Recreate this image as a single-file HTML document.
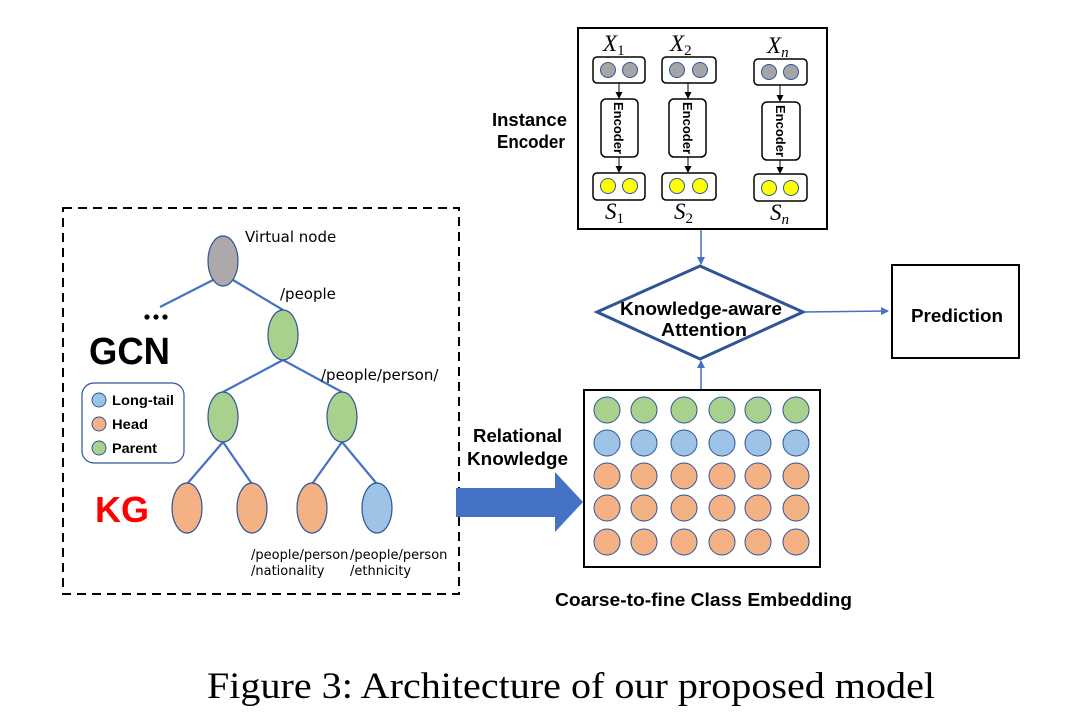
<!DOCTYPE html>
<html><head><meta charset="utf-8"><style>
html,body{margin:0;padding:0;background:#fff;}
svg{display:block;}
.b{font-family:"Liberation Sans","DejaVu Sans",sans-serif;font-weight:bold;fill:#000;}
.n{font-family:"DejaVu Sans","Liberation Sans",sans-serif;fill:#000;}
.i{font-family:"Liberation Serif",serif;font-style:italic;fill:#000;}
</style></head><body>
<svg width="1080" height="726" viewBox="0 0 1080 726" xmlns="http://www.w3.org/2000/svg">
<defs>
<marker id="ab" markerWidth="8" markerHeight="8" refX="7" refY="4" orient="auto" markerUnits="userSpaceOnUse"><path d="M0,0 L8,4 L0,8 z" fill="#4472C4"/></marker>
<marker id="ak" markerWidth="7" markerHeight="7" refX="6" refY="3.5" orient="auto" markerUnits="userSpaceOnUse"><path d="M0,0 L7,3.5 L0,7 z" fill="#000"/></marker>
</defs>
<rect x="63" y="208" width="396" height="386" fill="none" stroke="#000" stroke-width="2" stroke-dasharray="9,6"/>
<g stroke="#4472C4" stroke-width="2.2" fill="none">
<line x1="160" y1="307" x2="213" y2="280"/>
<line x1="233" y1="280" x2="283" y2="310"/>
<line x1="283" y1="360" x2="223" y2="392"/>
<line x1="283" y1="360" x2="342" y2="392"/>
<line x1="223" y1="442" x2="187" y2="484"/>
<line x1="223" y1="442" x2="252" y2="484"/>
<line x1="342" y1="442" x2="312" y2="484"/>
<line x1="342" y1="442" x2="377" y2="484"/>
</g>
<g stroke="#2F5597" stroke-width="1.2">
<ellipse cx="223" cy="261" rx="15" ry="25" fill="#ADA9AA"/>
<ellipse cx="283" cy="335" rx="15" ry="25" fill="#A9D18E"/>
<ellipse cx="223" cy="417" rx="15" ry="25" fill="#A9D18E"/>
<ellipse cx="342" cy="417" rx="15" ry="25" fill="#A9D18E"/>
<ellipse cx="187" cy="508" rx="15" ry="25" fill="#F4B183"/>
<ellipse cx="252" cy="508" rx="15" ry="25" fill="#F4B183"/>
<ellipse cx="312" cy="508" rx="15" ry="25" fill="#F4B183"/>
<ellipse cx="377" cy="508" rx="15" ry="25" fill="#9DC3E6"/>
</g>
<text class="n" x="245" y="242" font-size="15">Virtual node</text>
<text class="n" x="280" y="299" font-size="15">/people</text>
<text class="n" x="321" y="380" font-size="15">/people/person/</text>
<text class="n" x="251" y="559" font-size="13">/people/person</text>
<text class="n" x="251" y="575" font-size="13">/nationality</text>
<text class="n" x="350" y="559" font-size="13">/people/person</text>
<text class="n" x="350" y="575" font-size="13">/ethnicity</text>
<g fill="#000"><circle cx="147" cy="317" r="2.6"/><circle cx="156" cy="317" r="2.6"/><circle cx="165" cy="317" r="2.6"/></g>
<text class="b" x="89" y="364" font-size="38" textLength="81" lengthAdjust="spacingAndGlyphs">GCN</text>
<text class="b" x="95" y="522" font-size="36" style="fill:#FF0000">KG</text>
<rect x="82" y="383" width="102" height="80" rx="12" fill="#fff" stroke="#2F5597" stroke-width="1.2"/>
<g stroke="#2F5597" stroke-width="1">
<circle cx="99" cy="400" r="7" fill="#9DC3E6"/>
<circle cx="99" cy="424" r="7" fill="#F4B183"/>
<circle cx="99" cy="448" r="7" fill="#A9D18E"/>
</g>
<text class="b" x="112" y="405" font-size="13.5" textLength="62" lengthAdjust="spacingAndGlyphs">Long-tail</text>
<text class="b" x="112" y="429" font-size="13.5" textLength="36" lengthAdjust="spacingAndGlyphs">Head</text>
<text class="b" x="112" y="453" font-size="13.5" textLength="45" lengthAdjust="spacingAndGlyphs">Parent</text>
<path d="M456,488 L555,488 L555,472 L583,502 L555,532 L555,517 L456,517 z" fill="#4472C4"/>
<text class="b" x="473" y="442" font-size="18" textLength="89" lengthAdjust="spacingAndGlyphs">Relational</text>
<text class="b" x="467" y="465" font-size="18" textLength="101" lengthAdjust="spacingAndGlyphs">Knowledge</text>
<rect x="584" y="390" width="236" height="177" fill="#fff" stroke="#000" stroke-width="2"/>
<g stroke="#2F5597" stroke-width="1">
<g fill="#A9D18E"><circle cx="607" cy="410" r="13"/><circle cx="644" cy="410" r="13"/><circle cx="684" cy="410" r="13"/><circle cx="722" cy="410" r="13"/><circle cx="758" cy="410" r="13"/><circle cx="796" cy="410" r="13"/></g>
<g fill="#9DC3E6"><circle cx="607" cy="443" r="13"/><circle cx="644" cy="443" r="13"/><circle cx="684" cy="443" r="13"/><circle cx="722" cy="443" r="13"/><circle cx="758" cy="443" r="13"/><circle cx="796" cy="443" r="13"/></g>
<g fill="#F4B183"><circle cx="607" cy="476" r="13"/><circle cx="644" cy="476" r="13"/><circle cx="684" cy="476" r="13"/><circle cx="722" cy="476" r="13"/><circle cx="758" cy="476" r="13"/><circle cx="796" cy="476" r="13"/>
<circle cx="607" cy="508" r="13"/><circle cx="644" cy="508" r="13"/><circle cx="684" cy="508" r="13"/><circle cx="722" cy="508" r="13"/><circle cx="758" cy="508" r="13"/><circle cx="796" cy="508" r="13"/>
<circle cx="607" cy="542" r="13"/><circle cx="644" cy="542" r="13"/><circle cx="684" cy="542" r="13"/><circle cx="722" cy="542" r="13"/><circle cx="758" cy="542" r="13"/><circle cx="796" cy="542" r="13"/></g>
</g>
<text class="b" x="555" y="606" font-size="18" textLength="297" lengthAdjust="spacingAndGlyphs">Coarse-to-fine  Class Embedding</text>
<g stroke="#4472C4" stroke-width="1.5">
<line x1="701" y1="229" x2="701" y2="264" marker-end="url(#ab)"/>
<line x1="701" y1="389" x2="701" y2="361" marker-end="url(#ab)"/>
<line x1="803" y1="312" x2="888" y2="311" marker-end="url(#ab)"/>
</g>
<polygon points="700,266 803,312 700,359 597,312" fill="#fff" stroke="#2F5597" stroke-width="3"/>
<text class="b" x="620" y="315" font-size="18" textLength="162" lengthAdjust="spacingAndGlyphs">Knowledge-aware</text>
<text class="b" x="661" y="336" font-size="18" textLength="86" lengthAdjust="spacingAndGlyphs">Attention</text>
<rect x="892" y="265" width="127" height="93" fill="#fff" stroke="#000" stroke-width="2"/>
<text class="b" x="911" y="322" font-size="18" textLength="92" lengthAdjust="spacingAndGlyphs">Prediction</text>
<rect x="578" y="28" width="249" height="201" fill="#fff" stroke="#000" stroke-width="2"/>
<text class="b" x="492" y="126" font-size="18" textLength="75" lengthAdjust="spacingAndGlyphs">Instance</text>
<text class="b" x="497" y="148" font-size="18" textLength="68" lengthAdjust="spacingAndGlyphs">Encoder</text>
<g stroke="#000" stroke-width="1.5" fill="#fff">
<rect x="593" y="57" width="52" height="26" rx="4"/>
<rect x="601" y="99" width="37" height="58" rx="5"/>
<rect x="593" y="173" width="52" height="27" rx="4"/>
<rect x="662" y="57" width="54" height="26" rx="4"/>
<rect x="669" y="99" width="37" height="58" rx="5"/>
<rect x="662" y="173" width="54" height="27" rx="4"/>
<rect x="754" y="59" width="53" height="26" rx="4"/>
<rect x="762" y="102" width="38" height="58" rx="5"/>
<rect x="754" y="174" width="53" height="27" rx="4"/>
</g>
<g stroke="#000" stroke-width="1">
<line x1="619" y1="83" x2="619" y2="98" marker-end="url(#ak)"/>
<line x1="619" y1="157" x2="619" y2="172" marker-end="url(#ak)"/>
<line x1="688" y1="83" x2="688" y2="98" marker-end="url(#ak)"/>
<line x1="688" y1="157" x2="688" y2="172" marker-end="url(#ak)"/>
<line x1="780" y1="85" x2="780" y2="101" marker-end="url(#ak)"/>
<line x1="780" y1="160" x2="780" y2="173" marker-end="url(#ak)"/>
</g>
<g stroke="#2F5597" stroke-width="1">
<g fill="#A5A5A5"><circle cx="608" cy="70" r="7.5"/><circle cx="630" cy="70" r="7.5"/><circle cx="677" cy="70" r="7.5"/><circle cx="700" cy="70" r="7.5"/><circle cx="769" cy="72" r="7.5"/><circle cx="791" cy="72" r="7.5"/></g>
<g fill="#FFFF00"><circle cx="608" cy="186" r="7.5"/><circle cx="630" cy="186" r="7.5"/><circle cx="677" cy="186" r="7.5"/><circle cx="700" cy="186" r="7.5"/><circle cx="769" cy="188" r="7.5"/><circle cx="791" cy="188" r="7.5"/></g>
</g>
<g class="b" font-size="13">
<text transform="translate(614,128) rotate(90)" text-anchor="middle">Encoder</text>
<text transform="translate(683,128) rotate(90)" text-anchor="middle">Encoder</text>
<text transform="translate(776,131) rotate(90)" text-anchor="middle">Encoder</text>
</g>
<g font-size="23">
<text class="i" x="603" y="51">X<tspan font-size="15" dy="4" font-style="normal">1</tspan></text>
<text class="i" x="670" y="51">X<tspan font-size="15" dy="4" font-style="normal">2</tspan></text>
<text class="i" x="767" y="53">X<tspan font-size="15" dy="4" font-style="italic">n</tspan></text>
<text class="i" x="605" y="219">S<tspan font-size="15" dy="4" font-style="normal">1</tspan></text>
<text class="i" x="674" y="219">S<tspan font-size="15" dy="4" font-style="normal">2</tspan></text>
<text class="i" x="770" y="220">S<tspan font-size="15" dy="4" font-style="italic">n</tspan></text>
</g>
<text x="207" y="698" font-family="Liberation Serif, serif" font-size="37" textLength="728" lengthAdjust="spacingAndGlyphs" fill="#000">Figure 3: Architecture of our proposed model</text>
</svg>
</body></html>
